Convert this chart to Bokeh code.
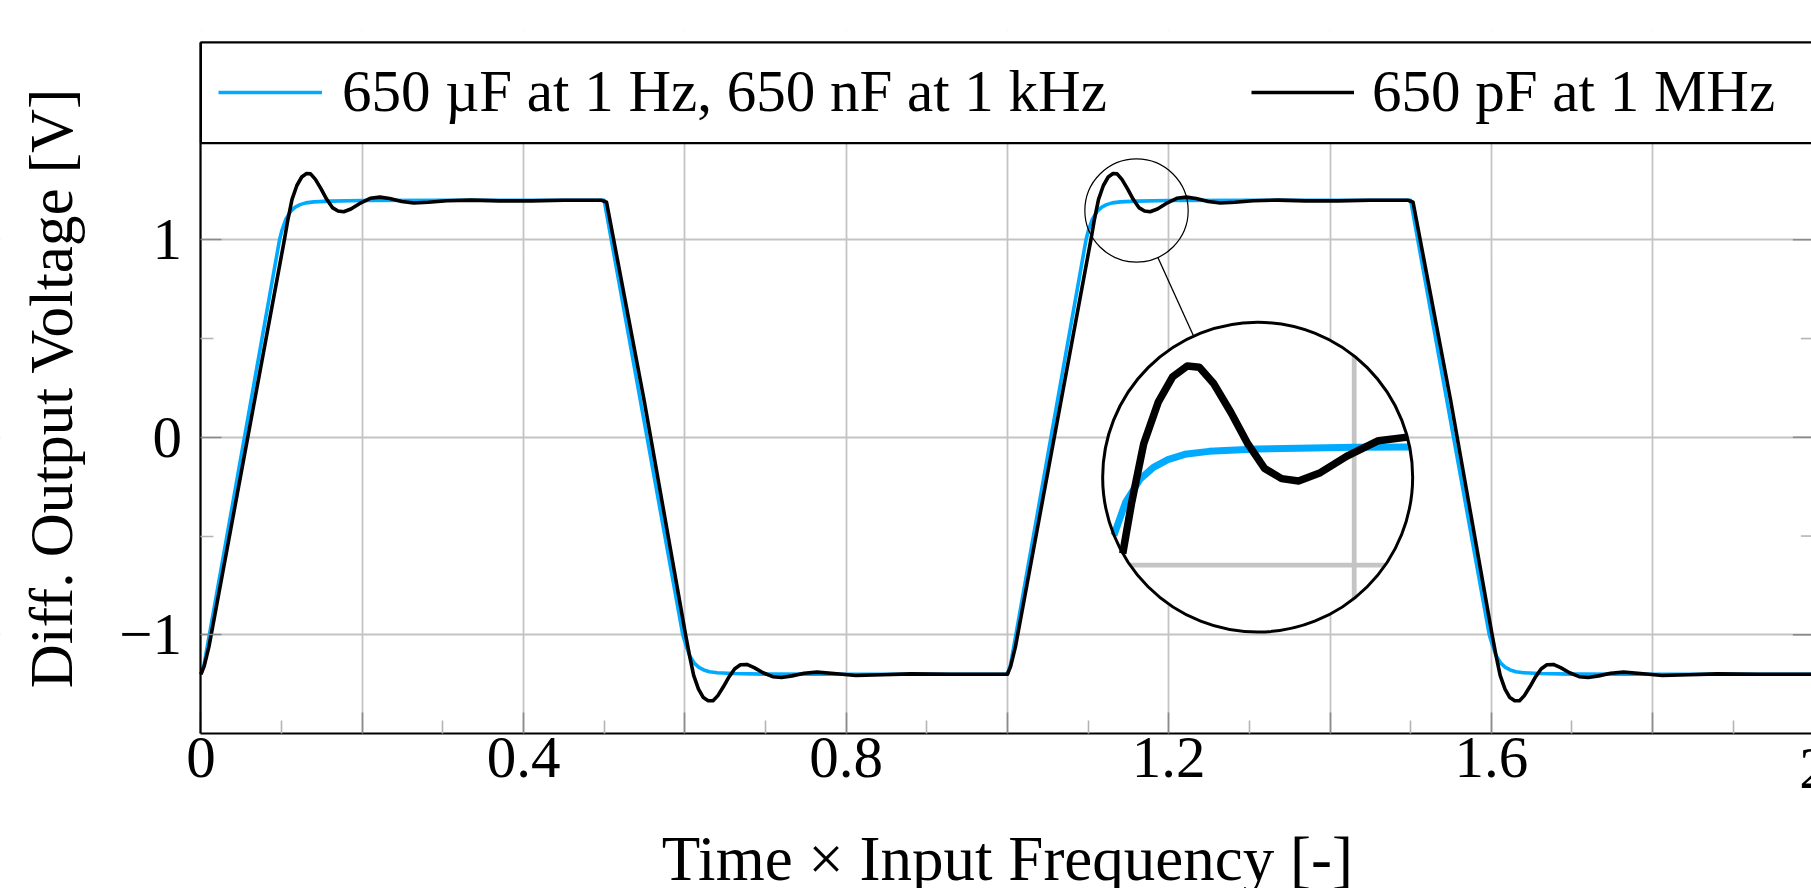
import numpy as np
from bokeh.plotting import figure
from bokeh.models import (Range1d, FixedTicker, Label, Legend, LegendItem, CustomJSTickFormatter)
from bokeh.embed import file_html
from bokeh.resources import INLINE
from bokeh.core.properties import value

# ---------------- data ----------------
t_black = [0.000, 0.004, 0.010, 0.1035, 0.108, 0.113, 0.119, 0.125, 0.131, 0.136, 0.142, 0.149,
           0.156, 0.163, 0.170, 0.177, 0.186, 0.197, 0.210, 0.222, 0.234, 0.249, 0.264, 0.282,
           0.305, 0.335, 0.370, 0.410, 0.450, 0.497, 0.503, 0.5495, 0.601, 0.606, 0.611, 0.617,
           0.623, 0.629, 0.635, 0.641, 0.648, 0.655, 0.662, 0.669, 0.677, 0.686, 0.697, 0.709,
           0.720, 0.733, 0.748, 0.764, 0.785, 0.812, 0.845, 0.880, 0.930, 0.998,
           1.000, 1.004, 1.010, 1.1035, 1.108, 1.113, 1.119, 1.125, 1.131, 1.136, 1.142, 1.149,
           1.156, 1.163, 1.170, 1.177, 1.186, 1.197, 1.210, 1.222, 1.234, 1.249, 1.264, 1.282,
           1.305, 1.335, 1.370, 1.410, 1.450, 1.497, 1.503, 1.5495, 1.601, 1.606, 1.611, 1.617,
           1.623, 1.629, 1.635, 1.641, 1.648, 1.655, 1.662, 1.669, 1.677, 1.686, 1.697, 1.709,
           1.720, 1.733, 1.748, 1.764, 1.785, 1.812, 1.845, 1.880, 1.930, 2.000]
v_black = [-1.200, -1.160, -1.060, 1.000, 1.105, 1.205, 1.275, 1.318, 1.336, 1.334, 1.306, 1.258,
           1.205, 1.163, 1.146, 1.142, 1.156, 1.184, 1.210, 1.216, 1.209, 1.194, 1.186, 1.190,
           1.198, 1.201, 1.197, 1.197, 1.200, 1.200, 1.190, 0.189, -1.000, -1.108, -1.205, -1.275,
           -1.318, -1.334, -1.334, -1.308, -1.262, -1.212, -1.172, -1.152, -1.150, -1.166, -1.192, -1.212,
           -1.216, -1.208, -1.195, -1.189, -1.196, -1.206, -1.202, -1.198, -1.200, -1.200,
           -1.200, -1.160, -1.060, 1.000, 1.105, 1.205, 1.275, 1.318, 1.336, 1.334, 1.306, 1.258,
           1.205, 1.163, 1.146, 1.142, 1.156, 1.184, 1.210, 1.216, 1.209, 1.194, 1.186, 1.190,
           1.198, 1.201, 1.197, 1.197, 1.200, 1.200, 1.190, 0.189, -1.000, -1.108, -1.205, -1.275,
           -1.318, -1.334, -1.334, -1.308, -1.262, -1.212, -1.172, -1.152, -1.150, -1.166, -1.192, -1.212,
           -1.216, -1.208, -1.195, -1.189, -1.196, -1.206, -1.202, -1.198, -1.200, -1.200]

t_blue = [0.000, 0.004, 0.0975, 0.1005, 0.1055, 0.1115, 0.117, 0.123, 0.130, 0.140, 0.160, 0.200,
          0.300, 0.500, 0.5975, 0.601, 0.606, 0.612, 0.6175, 0.6235, 0.6305, 0.640, 0.660, 0.700,
          0.800, 1.000, 1.004, 1.0975, 1.1005, 1.1055, 1.1115, 1.117, 1.123, 1.130, 1.140, 1.160,
          1.200, 1.300, 1.500, 1.5975, 1.601, 1.606, 1.612, 1.6175, 1.6235, 1.6305, 1.640, 1.660,
          1.700, 1.800, 2.000]
v_blue = [-1.200, -1.150, 1.000, 1.048, 1.106, 1.145, 1.165, 1.178, 1.187, 1.192, 1.196, 1.199,
          1.200, 1.200, -1.000, -1.048, -1.106, -1.145, -1.165, -1.178, -1.187, -1.192, -1.196, -1.199,
          -1.200, -1.200, -1.150, 1.000, 1.048, 1.106, 1.145, 1.165, 1.178, 1.187, 1.192, 1.196,
          1.199, 1.200, 1.200, -1.000, -1.048, -1.106, -1.145, -1.165, -1.178, -1.187, -1.192, -1.196,
          -1.199, -1.200, -1.200]

label_blue = "650 µF at 1 Hz, 650 nF at 1 kHz"
label_black = "650 pF at 1 MHz"
x_title = "Time × Input Frequency [-]"
y_title = "Diff. Output Voltage [V]"

x_major = [0.0, 0.2, 0.4, 0.6, 0.8, 1.0, 1.2, 1.4, 1.6, 1.8, 2.0]
x_minor = [0.1, 0.3, 0.5, 0.7, 0.9, 1.1, 1.3, 1.5, 1.7, 1.9]
y_major = [-1.0, 0.0, 1.0]
y_minor = [-0.5, 0.5]
X_MIN, X_MAX = 0.0, 2.0          # axis extent
Y_MIN, Y_MAX = -1.5, 2.0          # axis extent (legend box on top)
LEG_LINE = 1.49                   # bottom border of legend box

# ---------------- layout constants ----------------
FONT = "Liberation Serif"
BLUE = "#00aaff"
GRID = "#c4c4c4"
TICK_MAJ = "#8a8a8a"
TICK_MIN = "#b4b4b4"
W, H = 1811, 888
BT = 30                            # canvas px above the frame
X0_PX, Y0_PX = 200.4, 436.8        # canvas px of data (0, 0)
SX, SY = 806.5, 197.5              # px per data unit
x_lo, x_hi = -X0_PX / SX, (W - X0_PX) / SX
y_hi, y_lo = (Y0_PX - BT) / SY, (Y0_PX - H) / SY

# spy (magnifier)
M = 3.0
RB = 155.0
RS = RB / M
TS, VS = 1.1601, 1.1484
TB, VB = 1.3103, -0.2020

p = figure(width=W, height=H, x_range=Range1d(x_lo, x_hi), y_range=Range1d(y_lo, y_hi),
           output_backend="svg", toolbar_location=None,
           min_border_left=0, min_border_right=0, min_border_top=BT, min_border_bottom=0)
p.outline_line_color = None
p.background_fill_color = "white"
p.border_fill_color = "white"

# axes pinned at the data frame
xa, ya = p.xaxis[0], p.yaxis[0]
xa.fixed_location = Y_MIN
xa.bounds = (X_MIN, X_MAX)
ya.fixed_location = X_MIN
ya.bounds = (Y_MIN, Y_MAX)
for ax in (xa, ya):
    ax.major_tick_in = 21
    ax.major_tick_out = 0
    ax.minor_tick_in = 13
    ax.minor_tick_out = 0
    ax.major_tick_line_color = TICK_MAJ
    ax.major_tick_line_width = 1.6
    ax.minor_tick_line_color = TICK_MIN
    ax.minor_tick_line_width = 1.6
    ax.axis_line_width = 2.2
    ax.axis_line_color = "black"
    ax.major_label_text_font = FONT
    ax.major_label_text_font_size = "59px"
    ax.major_label_text_color = "black"
xa.ticker = FixedTicker(ticks=x_major, minor_ticks=x_minor)
ya.ticker = FixedTicker(ticks=y_major, minor_ticks=y_minor)
xa.formatter = CustomJSTickFormatter(code="""
    const k = Math.round(tick * 10);
    if (k % 4 != 0) return "";
    if (k == 0) return "0";
    if (k == 20) return "2";
    return tick.toFixed(1);
""")
ya.formatter = CustomJSTickFormatter(code="""
    const k = Math.round(tick);
    if (k < 0) return "\u2212" + (-k);
    return "" + k;
""")
xa.major_label_standoff = 4
ya.major_label_standoff = 19

p.xgrid.ticker = FixedTicker(ticks=x_major)
p.ygrid.ticker = FixedTicker(ticks=y_major)
for g in (p.xgrid[0], p.ygrid[0]):
    g.grid_line_color = GRID
    g.grid_line_width = 1.8

# white covers outside the data frame (hide grid lines there)
p.quad(left=[x_lo, x_lo, x_lo], right=[x_hi, X_MIN, x_hi], bottom=[y_lo, y_lo, Y_MAX],
       top=[Y_MIN, y_hi, y_hi], fill_color="white", line_color=None)
# legend box
p.quad(left=[X_MIN], right=[X_MAX], bottom=[LEG_LINE], top=[Y_MAX], fill_color="white",
       line_color="black", line_width=2.2)

# right-side ticks (frame edge at x=2)
p.segment(x0=[X_MAX - 21 / SX] * len(y_major), y0=y_major, x1=[X_MAX] * len(y_major), y1=y_major,
          line_color=TICK_MAJ, line_width=1.6)
p.segment(x0=[X_MAX - 13 / SX] * len(y_minor), y0=y_minor, x1=[X_MAX] * len(y_minor), y1=y_minor,
          line_color=TICK_MIN, line_width=1.6)

# main curves
r_blue = p.line(t_blue, v_blue, line_color=BLUE, line_width=3.6, line_join="round")
r_black = p.line(t_black, v_black, line_color="black", line_width=3.6, line_join="round")


# ---------------- spy inset ----------------
def clip_circle(ts, vs, tc, vc, r):
    ot, ov = [], []
    open_run = False
    for i in range(len(ts) - 1):
        x0 = (ts[i] - tc) * SX
        y0 = (vs[i] - vc) * SY
        x1 = (ts[i + 1] - tc) * SX
        y1 = (vs[i + 1] - vc) * SY
        dx, dy = x1 - x0, y1 - y0
        a = dx * dx + dy * dy
        if a == 0:
            continue
        b = 2 * (x0 * dx + y0 * dy)
        c = x0 * x0 + y0 * y0 - r * r
        disc = b * b - 4 * a * c
        if disc <= 0:
            open_run = False
            continue
        s = disc ** 0.5
        u0 = max(0.0, (-b - s) / (2 * a))
        u1 = min(1.0, (-b + s) / (2 * a))
        if u0 >= u1:
            open_run = False
            continue
        pa = (ts[i] + u0 * (ts[i + 1] - ts[i]), vs[i] + u0 * (vs[i + 1] - vs[i]))
        pb = (ts[i] + u1 * (ts[i + 1] - ts[i]), vs[i] + u1 * (vs[i + 1] - vs[i]))
        if not (open_run and u0 == 0.0):
            if ot:
                ot.append(np.nan)
                ov.append(np.nan)
            ot.append(pa[0])
            ov.append(pa[1])
        ot.append(pb[0])
        ov.append(pb[1])
        open_run = (u1 == 1.0)
    return ot, ov


def magnify(ts, vs):
    return ([TB + M * (t - TS) for t in ts], [VB + M * (v - VS) for v in vs])


p.scatter([TB], [VB], size=2 * RB, marker="circle", fill_color="white", line_color=None)

for xt in x_major:
    gt, gv = clip_circle([xt, xt], [Y_MIN, LEG_LINE], TS, VS, RS)
    if gt:
        mt, mv = magnify(gt, gv)
        p.line(mt, mv, line_color=GRID, line_width=4.8)
for yt in y_major:
    gt, gv = clip_circle([X_MIN, X_MAX], [yt, yt], TS, VS, RS)
    if gt:
        mt, mv = magnify(gt, gv)
        p.line(mt, mv, line_color=GRID, line_width=4.8)

ct, cv = clip_circle(t_blue, v_blue, TS, VS, RS)
mt, mv = magnify(ct, cv)
p.line(mt, mv, line_color=BLUE, line_width=7.0, line_join="round")
ct, cv = clip_circle(t_black, v_black, TS, VS, RS)
mt, mv = magnify(ct, cv)
p.line(mt, mv, line_color="black", line_width=7.5, line_join="round")

p.scatter([TB], [VB], size=2 * RB, marker="circle", fill_color=None, line_color="black", line_width=3.0)
p.scatter([TS], [VS], size=2 * RS, marker="circle", fill_color=None, line_color="black", line_width=1.2)
ddx, ddy = (TB - TS) * SX, (VB - VS) * SY
dl = (ddx ** 2 + ddy ** 2) ** 0.5
ux, uy = ddx / dl, ddy / dl
p.segment(x0=[TS + RS * ux / SX], y0=[VS + RS * uy / SY],
          x1=[TB - RB * ux / SX], y1=[VB - RB * uy / SY], line_color="black", line_width=1.3)

# ---------------- legend ----------------
LEG_Y = 762
for lab, rend, lx, gw, so in ((label_blue, r_blue, 218, 104, 20), (label_black, r_black, 1251, 103, 18)):
    leg = Legend(items=[LegendItem(label=value(lab), renderers=[rend])],
                 location=(lx, LEG_Y), orientation="horizontal", glyph_width=gw, glyph_height=20,
                 label_standoff=so, padding=0, margin=0, spacing=0,
                 border_line_color=None, background_fill_alpha=0,
                 label_text_font=FONT, label_text_font_size="59px", label_text_color="black")
    p.add_layout(leg)

# ---------------- titles ----------------
p.add_layout(Label(x=1.0, y=-2.1327, text=x_title, text_align="center", text_baseline="alphabetic",
                   text_font=FONT, text_font_size="63px", text_color="black"))
p.add_layout(Label(x=-0.1852, y=0.25, text=y_title, angle=np.pi / 2, text_align="center",
                   text_baseline="alphabetic", text_font=FONT, text_font_size="61px", text_color="black"))
p.add_layout(Label(x=2.0, y=-1.677, text="2", text_align="center", text_baseline="alphabetic",
                   text_font=FONT, text_font_size="59px", text_color="black"))

open("out.html", "w").write(file_html(p, INLINE))
